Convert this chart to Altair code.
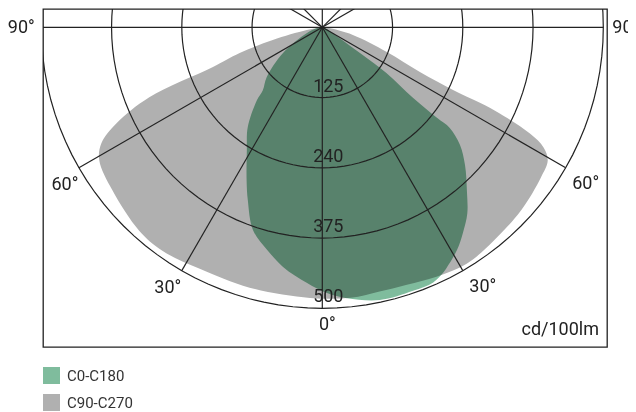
import altair as alt
import pandas as pd

# ---- data (angle from nadir in degrees, left < 0; intensity in cd/100lm)
green_gamma = [-90, -80, -69.6, -56.8, -48.1, -43.4, -41.9, -36.7, -31.5, -26.3, -23.3, -18.9,
               -13.9, -9.3, -3.4, 1.0, 5.2, 11.9, 19.0, 23.5, 26.2, 27.5, 31.2, 34.4, 37.9,
               41.3, 46.0, 49.5, 51.7, 51.7, 52.1, 54.5, 55.5, 58.0, 75, 90]
green_I = [0, 10, 29, 84, 133, 154, 174, 222, 257, 304, 335, 381,
           408, 432, 456, 473, 484, 496, 496, 495, 487, 481, 463, 443, 420,
           390, 353, 322, 289, 260, 205, 140, 85, 35, 5, 0]

gray_gamma = [-90, -80, -75.6, -72.7, -70.0, -68.0, -65.0, -62.3, -59.2, -52.1, -42.0, -35.6,
              -26.9, -15.6, -2.6, 6.0, 12.0, 18.2, 24.6, 31.4, 38.7, 47.3, 55.5, 59.4, 61.5, 62.9,
              64.1, 64.4, 64.4, 65.4, 69.1, 76, 85, 90]
gray_I = [0, 28, 91, 154, 208, 332, 404, 444, 462, 473, 487, 489,
          482, 481, 482, 484, 481, 482, 488, 493, 487, 481, 472, 466, 448, 415,
          351, 311, 258, 191, 123, 56, 10, 0]

series_names = ["C0-C180", "C90-C270"]
series_colors = ["#7fbc9d", "#b0b0b0"]

ring_values = [125, 250, 375, 500]
ring_labels = ["125", "240", "375", "500"]
spoke_angles = [-135, -120, -90, -60, -30, 0, 30, 60, 90, 120, 135, 180]
angle_label_values = [-90, -60, -30, 0, 30, 60, 90]
angle_label_texts = ["90°", "60°", "30°", "0°", "30°", "60°", "90°"]
unit_text = "cd/100lm"

# ---- layout (plot area and scale so that 1 cd maps equally on x and y)
PW, PH = 564, 338
K = 0.562          # px per cd
CX, CY = 279.3, 18.3  # pole position inside the plot area (px)
xdom = [-CX / K, (PW - CX) / K]
ydom = [-(PH - CY) / K, CY / K]

X = alt.X("x:Q", scale=alt.Scale(domain=xdom, nice=False, zero=False), axis=None)
Y = alt.Y("y:Q", scale=alt.Scale(domain=ydom, nice=False, zero=False), axis=None)
X2 = alt.X2("x2:Q")
Y2 = alt.Y2("y2:Q")

INK = "#222222"
FONT = "Roboto"

fill_enc = alt.Fill(
    "series:N", scale=alt.Scale(domain=series_names, range=series_colors),
    legend=alt.Legend(title=None, orient="none", legendX=0, legendY=358,
                      symbolType="square", symbolSize=289, symbolStrokeWidth=0,
                      symbolOpacity=1,
                      labelFontSize=15, labelFont=FONT, labelColor="#333333",
                      rowPadding=10, labelOffset=7, padding=0, direction="vertical"))


def shape_layer(name, gs, vals, blend=None):
    df = pd.DataFrame({"series": name, "g": gs, "I": vals, "idx": list(range(len(gs)))})
    kw = dict(interpolate="catmull-rom", strokeWidth=0, fillOpacity=1)
    if blend:
        kw["blend"] = blend
    return alt.Chart(df).transform_calculate(
        x="datum.I*sin(datum.g*PI/180)", y="-datum.I*cos(datum.g*PI/180)"
    ).mark_line(**kw).encode(x=X, y=Y, order="idx:Q", fill=fill_enc)


gray_layer = shape_layer(series_names[1], gray_gamma, gray_I)
green_layer = shape_layer(series_names[0], green_gamma, green_I, blend="multiply")

# rings (circles drawn through the same scales)
ring_df = pd.DataFrame([{"ring": r, "a": a} for r in ring_values for a in range(0, 361, 3)])
rings = alt.Chart(ring_df).transform_calculate(
    x="datum.ring*sin(datum.a*PI/180)", y="-datum.ring*cos(datum.a*PI/180)"
).mark_line(clip=True, color=INK, strokeWidth=1.2).encode(x=X, y=Y, detail="ring:N", order="a:Q")

spoke_df = pd.DataFrame({"g": spoke_angles})
spokes = alt.Chart(spoke_df).transform_calculate(
    x="0*datum.g", y="0*datum.g", x2="500*sin(datum.g*PI/180)", y2="-500*cos(datum.g*PI/180)"
).mark_rule(clip=True, color=INK, strokeWidth=1.2).encode(x=X, y=Y, x2=X2, y2=Y2)

ring_lbl_df = pd.DataFrame({"ring": ring_values, "label": ring_labels})
ring_text = alt.Chart(ring_lbl_df).transform_calculate(
    x="0*datum.ring", y="-datum.ring"
).mark_text(dx=6, dy=-6, baseline="alphabetic", align="center", fontSize=18, font=FONT, color=INK).encode(
    x=X, y=Y, text="label:N")

ang_df = pd.DataFrame({"g": angle_label_values, "label": angle_label_texts})


def angle_text(sel, dx, dy, align="center"):
    return alt.Chart(ang_df).transform_filter(
        alt.FieldOneOfPredicate(field="g", oneOf=sel)
    ).transform_calculate(
        x="500*sin(datum.g*PI/180)", y="-500*cos(datum.g*PI/180)"
    ).mark_text(dx=dx, dy=dy, baseline="middle", align=align, fontSize=18, font=FONT, color=INK).encode(
        x=X, y=Y, text="label:N")


ang_layers = [
    angle_text([-60, -30], -14, 17),
    angle_text([30, 60], 20, 16),
    angle_text([0], 5, 17),
    angle_text([-90], -20, 1),
    angle_text([90], 9, 1, align="left"),
]

unit = alt.Chart(pd.DataFrame({"t": [unit_text]})).mark_text(
    align="right", baseline="alphabetic", fontSize=18, font=FONT, color=INK
).encode(x=alt.value(PW - 8), y=alt.value(PH - 12), text="t:N")

chart = alt.layer(gray_layer, green_layer, rings, spokes, ring_text, *ang_layers, unit).properties(
    width=PW, height=PH,
    padding={"left": 35, "top": 1, "right": 21, "bottom": 65},
    autosize=alt.AutoSizeParams(type="none"),
    background="white",
).configure_view(stroke=INK, strokeWidth=1.3)

chart.save("out.html", embed_options={"renderer": "svg", "actions": False})
